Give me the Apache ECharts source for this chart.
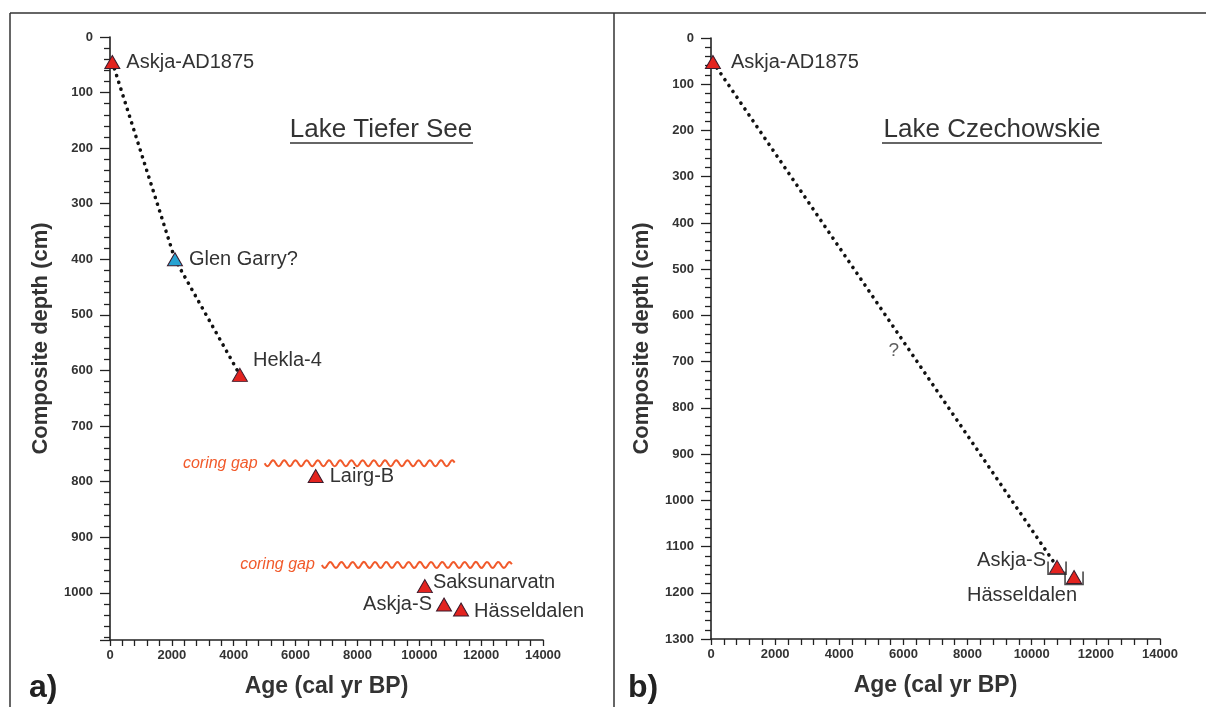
<!DOCTYPE html>
<html lang="en">
<head>
<meta charset="UTF-8">
<title>Tephra age-depth</title>
<script src="https://cdn.jsdelivr.net/npm/echarts@6/dist/echarts.min.js"></script>
</head>
<body style="margin:0;background:#fff">
<div id="main" style="width:1206px;height:707px;"></div>
<script>
// Lake Tiefer See tephras
var tsNames = ['Askja-AD1875', 'Glen Garry?', 'Hekla-4', 'Lairg-B', 'Saksunarvatn', 'Askja-S', 'Hässeldalen'];
var tsAge = [75, 2100, 4200, 6650, 10180, 10800, 11350];
var tsDepth = [45, 400, 608, 790, 988, 1021, 1030];
var tsLinked = ['Askja-AD1875', 'Glen Garry?', 'Hekla-4'];   // dotted line through these
var gapFrom = [5000, 6850];
var gapTo = [11150, 13000];
var gapDepth = [767, 950];

// Lake Czechowskie tephras
var czNames = ['Askja-AD1875', 'Askja-S', 'Hässeldalen'];
var czAge = [60, 10790, 11320];
var czDepth = [52, 1144, 1166];
var czLinked = ['Askja-AD1875', 'Askja-S'];
var qAge = [5700];
var qDepth = [676];

var FONT = 'Liberation Sans, Arial, sans-serif';
var RED = '#e3231f', BLUE = '#27a3d3', EDGE = '#3b1b2c', TXT = '#333';

// label placement per tephra [position, distance, dx, dy]
var tsLab = {
    'Askja-AD1875': ['right', 6, 0, 0], 'Glen Garry?': ['right', 6, 0, 0], 'Hekla-4': ['right', 5, 0, -14],
    'Lairg-B': ['right', 6, 0, 0], 'Saksunarvatn': ['right', 0, 0, -4], 'Askja-S': ['left', 4, 0, 0],
    'Hässeldalen': ['right', 5, 0, 2]
};
var czLab = {
    'Askja-AD1875': ['right', 10, 0, 0], 'Askja-S': ['left', 3, 0, -6], 'Hässeldalen': ['bottom', 1, -52, 0]
};

function points(names, ages, depths, lab) {
    return names.map(function (n, i) {
        var l = lab[n];
        return {
            name: n, value: [ages[i], depths[i]],
            itemStyle: { color: n === 'Glen Garry?' ? BLUE : RED },
            label: { position: l[0], distance: l[1], offset: [l[2], l[3]] }
        };
    });
}
function linked(names, ages, depths, keep) {
    var out = [];
    names.forEach(function (n, i) { if (keep.indexOf(n) >= 0) out.push([ages[i], depths[i]]); });
    return out;
}
function plain(v) { return v % 100 === 0 ? String(v) : ''; }

function xAx(idx) {
    return {
        gridIndex: idx, type: 'value', min: 0, max: 14000, interval: 2000, position: 'bottom',
        name: 'Age (cal yr BP)', nameLocation: 'middle', nameGap: 35,
        nameTextStyle: { fontFamily: FONT, fontWeight: 'bold', fontSize: 23, color: TXT },
        axisLine: { onZero: false, lineStyle: { color: '#222', width: 1.6 } },
        axisTick: { length: 6, lineStyle: { color: '#222', width: 1.3 } },
        minorTick: { show: true, splitNumber: 5, length: 6, lineStyle: { color: '#222', width: 1.3 } },
        axisLabel: { formatter: plain, fontFamily: FONT, fontWeight: 'bold', fontSize: 13, color: TXT, margin: 9 },
        splitLine: { show: false }
    };
}
function yAx(idx, max) {
    return {
        gridIndex: idx, type: 'value', min: 0, max: max, interval: 100, inverse: true,
        name: 'Composite depth (cm)', nameLocation: 'middle', nameGap: 58,
        nameTextStyle: { fontFamily: FONT, fontWeight: 'bold', fontSize: 22, color: TXT },
        axisLine: { onZero: false, lineStyle: { color: '#222', width: 1.6 } },
        axisTick: { length: 10, lineStyle: { color: '#222', width: 1.3 } },
        minorTick: { show: true, splitNumber: 5, length: 6, lineStyle: { color: '#222', width: 1.3 } },
        axisLabel: { formatter: plain, fontFamily: FONT, fontWeight: 'bold', fontSize: 13, color: TXT, margin: 17 },
        splitLine: { show: false }
    };
}

function tephraSeries(idx, data) {
    return {
        type: 'scatter', xAxisIndex: idx, yAxisIndex: idx, z: 5,
        symbol: 'triangle', symbolSize: [15, 13],
        itemStyle: { borderColor: EDGE, borderWidth: 1, opacity: 1 },
        label: { show: true, formatter: '{b}', fontFamily: FONT, fontSize: 20, color: TXT },
        data: data
    };
}
function dotted(idx, data) {
    return {
        type: 'line', xAxisIndex: idx, yAxisIndex: idx, z: 3, symbol: 'none',
        lineStyle: { color: '#111', width: 3.6, type: [0.1, 7], cap: 'round' },
        data: data
    };
}

var gapData = gapFrom.map(function (g, i) { return [g, gapTo[i], gapDepth[i]]; });

var myChart = echarts.init(document.getElementById('main'));
var option = {
    backgroundColor: '#fff',
    animation: false,
    grid: [
        { left: 110, top: 37, width: 433, height: 603 },
        { left: 711, top: 38, width: 449, height: 601 }
    ],
    xAxis: [xAx(0), xAx(1)],
    yAxis: [yAx(0, 1085), yAx(1, 1300)],
    series: [
        dotted(0, linked(tsNames, tsAge, tsDepth, tsLinked)),
        dotted(1, linked(czNames, czAge, czDepth, czLinked)),
        tephraSeries(0, points(tsNames, tsAge, tsDepth, tsLab)),
        tephraSeries(1, points(czNames, czAge, czDepth, czLab)),
        {
            // bracket marks around the Czechowskie Askja-S / Hässeldalen samples
            type: 'scatter', xAxisIndex: 1, yAxisIndex: 1, z: 6,
            symbol: 'path://M0,0 L0,10 L16,10 L16,0', symbolSize: [18, 13], symbolOffset: [0, 1],
            itemStyle: { color: 'none', borderColor: '#222', borderWidth: 1.4 },
            data: linked(czNames, czAge, czDepth, ['Askja-S', 'Hässeldalen'])
        },
        {
            type: 'scatter', xAxisIndex: 1, yAxisIndex: 1, symbolSize: 0,
            label: { show: true, position: 'inside', formatter: '?', fontFamily: FONT, fontSize: 19, color: TXT },
            data: qAge.map(function (a, i) { return [a, qDepth[i]]; })
        },
        {
            type: 'custom', xAxisIndex: 0, yAxisIndex: 0, z: 4,
            data: gapData,
            renderItem: function (params, api) {
                var p1 = api.coord([api.value(0), api.value(2)]);
                var p2 = api.coord([api.value(1), api.value(2)]);
                var pts = [];
                for (var x = p1[0]; x <= p2[0]; x += 1) {
                    pts.push([x, p1[1] + 3 * Math.sin((x - p1[0]) / 11.2 * 2 * Math.PI)]);
                }
                return {
                    type: 'group',
                    children: [
                        { type: 'polyline', shape: { points: pts }, style: { stroke: '#f15a2b', lineWidth: 2, fill: null } },
                        {
                            type: 'text', x: p1[0] - 7, y: p1[1],
                            style: { text: 'coring gap', fill: '#f15a2b', font: 'italic 16px ' + FONT, align: 'right', verticalAlign: 'middle' }
                        }
                    ]
                };
            }
        }
    ],
    graphic: [
        { type: 'line', shape: { x1: 10, y1: 13, x2: 1206, y2: 13 }, style: { stroke: '#333', lineWidth: 1.5 } },
        { type: 'line', shape: { x1: 10, y1: 13, x2: 10, y2: 707 }, style: { stroke: '#333', lineWidth: 1.5 } },
        { type: 'line', shape: { x1: 614, y1: 13, x2: 614, y2: 707 }, style: { stroke: '#333', lineWidth: 1.5 } },
        { type: 'text', x: 381, y: 130, style: { text: 'Lake Tiefer See', font: '26px ' + FONT, fill: TXT, align: 'center', verticalAlign: 'middle' } },
        { type: 'line', shape: { x1: 290, y1: 143, x2: 473, y2: 143 }, style: { stroke: TXT, lineWidth: 1.3 } },
        { type: 'text', x: 992, y: 130, style: { text: 'Lake Czechowskie', font: '26px ' + FONT, fill: TXT, align: 'center', verticalAlign: 'middle' } },
        { type: 'line', shape: { x1: 882, y1: 143, x2: 1102, y2: 143 }, style: { stroke: TXT, lineWidth: 1.3 } },
        { type: 'text', x: 29, y: 688, style: { text: 'a)', font: 'bold 32px ' + FONT, fill: '#222', verticalAlign: 'middle' } },
        { type: 'text', x: 628, y: 688, style: { text: 'b)', font: 'bold 32px ' + FONT, fill: '#222', verticalAlign: 'middle' } }
    ]
};
myChart.setOption(option);
</script>
</body>
</html>
